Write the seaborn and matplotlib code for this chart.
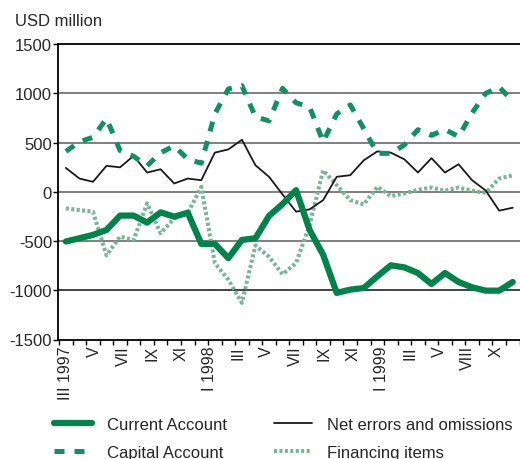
import numpy as np
import pandas as pd
import matplotlib
matplotlib.use("Agg")
import matplotlib.pyplot as plt
import seaborn as sns

# ---- data (USD million, monthly from III 1997) ----
current_account = [-505, -472, -438, -388, -242, -242, -313, -209, -253, -213,
                   -529, -529, -674, -489, -472, -245, -125, 16, -388, -640,
                   -1027, -994, -977, -859, -747, -768, -825, -936, -825, -916,
                   -970, -1004, -1004, -916]
net_errors = [242, 134, 101, 263, 248, 364, 195, 228, 84, 134,
              117, 397, 430, 528, 269, 152, -27, -202, -179, -85,
              152, 168, 319, 410, 397, 329, 195, 341, 195, 279,
              117, 13, -192, -162]
capital_account = [410, 507, 553, 743, 420, 360, 263, 397, 465, 330,
                   290, 791, 1043, 1077, 760, 720, 1050, 903, 860, 507,
                   790, 882, 640, 390, 390, 476, 630, 573, 632, 560,
                   800, 998, 1063, 920]
financing_items = [-169, -186, -202, -646, -455, -489, -118, -421, -270, -219,
                   50, -724, -893, -1128, -545, -660, -838, -724, -337, 218,
                   67, -85, -128, 50, -44, -17, 20, 43, 10, 43,
                   10, -10, 134, 168]
tick_labels = ["III 1997", "V", "VII", "IX", "XI", "I 1998", "III", "V", "VII",
               "IX", "XI", "I 1999", "III", "V", "VIII", "X"]
y_ticks = [-1500, -1000, -500, 0, 500, 1000, 1500]

sns.set_theme(style="white")
plt.rcParams['font.family'] = ['Liberation Sans', 'DejaVu Sans']

W, H = 520, 460
fig = plt.figure(figsize=(W / 100, H / 100), dpi=100)
ax = fig.add_axes([58.3 / W, 1 - 340.5 / H, (519.5 - 58.3) / W, (340.5 - 45) / H])

idx = np.arange(len(current_account))

# gridlines
for v, c in [(1000, '#6a6a6a'), (500, '#6a6a6a'), (0, '#6a6a6a'), (-500, '#6a6a6a'), (-1000, '#222222')]:
    ax.axhline(v, color=c, lw=1.2, zorder=1)

green_dark = '#00844a'
green_dash = '#0f9262'
green_light = '#74b794'

sns.lineplot(x=idx, y=financing_items, ax=ax, color=green_light, lw=2.9,
             linestyle=(0, (0.75, 0.6)), label='Financing items', zorder=2)
sns.lineplot(x=idx, y=net_errors, ax=ax, color='#1a1a1a', lw=1.3,
             label='Net errors and omissions', zorder=3)
sns.lineplot(x=idx, y=capital_account, ax=ax, color=green_dash, lw=3.6,
             linestyle=(0, (2.0, 2.0)), label='Capital Account', zorder=4)
sns.lineplot(x=idx, y=current_account, ax=ax, color=green_dark, lw=4.5,
             label='Current Account', zorder=5)

ax.set_xlim(-0.56, 33.25)
ax.set_ylim(-1500, 1500)
ax.set_yticks(y_ticks)
ax.set_yticklabels([str(v) for v in y_ticks], fontsize=12)

# month ticks (boundaries) and drifting labels as in the original
ax.set_xticks(np.arange(len(idx) + 1) - 0.5)
ax.set_xticklabels([])
label_pos = np.arange(len(tick_labels)) * 2.12
ax.set_xticks(label_pos, minor=True)
ax.set_xticklabels(tick_labels, minor=True, rotation=90, fontsize=11.5)
ax.tick_params(axis='x', which='major', direction='out', length=3.5, width=1, color='black', bottom=True)
ax.tick_params(axis='x', which='minor', length=0, pad=4)
ax.tick_params(axis='y', direction='out', length=3.5, width=1, color='black', left=True, pad=1)

for s in ['left', 'bottom', 'top']:
    ax.spines[s].set_color('black')
    ax.spines[s].set_linewidth(1.3)
ax.spines['right'].set_visible(False)
ax.set_xlabel('')
ax.set_ylabel('')
ax.grid(False)

fig.text(15 / W, 1 - 21 / H, 'USD million', ha='left', va='center', fontsize=12)

h, l = ax.get_legend_handles_labels()
ax.get_legend().remove()
order = ['Current Account', 'Capital Account', 'Net errors and omissions', 'Financing items']
hd = dict(zip(l, h))
fig.legend([hd[k] for k in order], order, ncol=2, loc='upper left',
           bbox_to_anchor=(54 / W, 1 - 418 / H), frameon=False, fontsize=12,
           handlelength=2.3, handletextpad=0.9, columnspacing=2.8,
           labelspacing=0.76, borderpad=0, borderaxespad=0)

fig.savefig('out.png', dpi=100)
